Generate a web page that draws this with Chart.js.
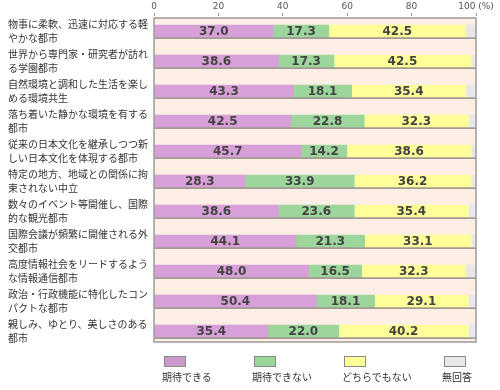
<!DOCTYPE html>
<html>
<head>
<meta charset="utf-8">
<script src="https://cdn.jsdelivr.net/npm/chart.js@4/dist/chart.umd.min.js"></script>
<style>
  html, body { margin: 0; padding: 0; background: #ffffff; }
  #wrap { position: relative; width: 500px; height: 390px; }
  #c { position: absolute; left: 0; top: 0; }
  .lg { position: absolute; font-family: "Noto Sans CJK JP", sans-serif; font-size: 10px; color: #333; line-height: 12px; white-space: nowrap; }
  .lg .box { width: 22px; height: 11px; border: 1px solid #8a8a8a; margin-left: 2px; margin-bottom: 4px; box-sizing: border-box; }
</style>
</head>
<body>
<div id="wrap">
  <canvas id="c" width="500" height="390"></canvas>
</div>
<script>
const categories = [
  ["物事に柔軟、迅速に対応する軽", "やかな都市"],
  ["世界から専門家・研究者が訪れ", "る学園都市"],
  ["自然環境と調和した生活を楽し", "める環境共生"],
  ["落ち着いた静かな環境を有する", "都市"],
  ["従来の日本文化を継承しつつ新", "しい日本文化を体現する都市"],
  ["特定の地方、地域との関係に拘", "束されない中立"],
  ["数々のイベント等開催し、国際", "的な観光都市"],
  ["国際会議が頻繁に開催される外", "交都市"],
  ["高度情報社会をリードするよう", "な情報通信都市"],
  ["政治・行政機能に特化したコン", "パクトな都市"],
  ["親しみ、ゆとり、美しさのある", "都市"]
];
const seriesNames = ["期待できる", "期待できない", "どちらでもない", "無回答"];
const expectYes   = [37.0, 38.6, 43.3, 42.5, 45.7, 28.3, 38.6, 44.1, 48.0, 50.4, 35.4];
const expectNo    = [17.3, 17.3, 18.1, 22.8, 14.2, 33.9, 23.6, 21.3, 16.5, 18.1, 22.0];
const neither     = [42.5, 42.5, 35.4, 32.3, 38.6, 36.2, 35.4, 33.1, 32.3, 29.1, 40.2];
const noAnswer    = [3.2, 1.6, 3.2, 2.4, 1.5, 1.6, 2.4, 1.5, 3.2, 2.4, 2.4];
const xTickLabels = ["0", "20", "40", "60", "80", "100 (%)"];

const barColors    = ["#d8a0d8", "#9cd69c", "#ffff99", "#e8e8e8"];
const legendColors = ["#cc99cc", "#99d699", "#ffff99", "#e8e8e8"];
const legendLeft   = [162, 252, 342, 442];
const labelledSeries = 3;

const panelPlugin = {
  id: 'panel',
  beforeDatasetsDraw(chart) {
    const { ctx, chartArea: ca, scales: { x } } = chart;
    const x0 = x.getPixelForValue(0), x1 = x.getPixelForValue(100);
    ctx.save();
    ctx.fillStyle = '#fdeee6';
    ctx.fillRect(x0, ca.top + 2, x1 - x0, ca.bottom - ca.top - 6);
    const meta = chart.getDatasetMeta(0);
    ctx.fillStyle = '#a39a94';
    meta.data.forEach(bar => {
      const h = bar.height;
      ctx.fillRect(x0 + 1, bar.y - h / 2 + 2, x1 - x0 - 1, h);
    });
    ctx.restore();
  },
  afterDatasetsDraw(chart) {
    const { ctx, chartArea: ca, scales: { x } } = chart;
    const x0 = x.getPixelForValue(0), x1 = x.getPixelForValue(100);
    ctx.save();
    ctx.font = 'bold 12px "DejaVu Sans"';
    ctx.fillStyle = '#444444';
    ctx.textAlign = 'center';
    ctx.textBaseline = 'middle';
    for (let d = 0; d < labelledSeries; d++) {
      const meta = chart.getDatasetMeta(d);
      const vals = chart.data.datasets[d].data;
      meta.data.forEach((bar, i) => {
        const cx = (bar.base + bar.x) / 2;
        ctx.fillText(vals[i].toFixed(1), cx, bar.y + 1);
      });
    }
    ctx.strokeStyle = '#9a9a9a';
    ctx.lineWidth = 1.5;
    ctx.strokeRect(x0, ca.top + 2, x1 - x0, ca.bottom - ca.top - 6);
    ctx.restore();
  }
};

const seriesData = [expectYes, expectNo, neither, noAnswer];

new Chart(document.getElementById('c'), {
  type: 'bar',
  data: {
    labels: categories,
    datasets: seriesData.map((d, i) => ({
      label: seriesNames[i],
      data: d,
      backgroundColor: barColors[i],
      borderWidth: 0,
      barThickness: 12
    }))
  },
  options: {
    indexAxis: 'y',
    responsive: false,
    animation: false,
    devicePixelRatio: 1,
    layout: { padding: { left: 8, right: 24, top: 0, bottom: 44 } },
    plugins: { legend: { display: false }, tooltip: { enabled: false } },
    scales: {
      x: {
        position: 'top',
        stacked: true,
        min: 0, max: 100,
        afterFit(s) { s.height = 16; },
        border: { display: false },
        grid: { drawOnChartArea: false, tickLength: 3, color: '#999999' },
        ticks: {
          stepSize: 20,
          padding: 1,
          maxRotation: 0,
          font: { family: 'DejaVu Sans', size: 9 },
          color: '#555555',
          callback: (v, i) => xTickLabels[i]
        }
      },
      y: {
        stacked: true,
        afterFit(s) { s.width = 146; },
        border: { display: false },
        grid: { display: false },
        ticks: {
          autoSkip: false,
          crossAlign: 'far',
          padding: 0,
          font: { family: '"Noto Sans CJK JP"', size: 10, lineHeight: 1.4 },
          color: '#333333'
        }
      }
    }
  },
  plugins: [panelPlugin]
});

const wrap = document.getElementById('wrap');
seriesNames.forEach((name, i) => {
  const el = document.createElement('div');
  el.className = 'lg';
  el.style.left = legendLeft[i] + 'px';
  el.style.top = '356px';
  const box = document.createElement('div');
  box.className = 'box';
  box.style.background = legendColors[i];
  el.appendChild(box);
  const t = document.createElement('div');
  t.textContent = name;
  el.appendChild(t);
  wrap.appendChild(el);
});
</script>
</body>
</html>
